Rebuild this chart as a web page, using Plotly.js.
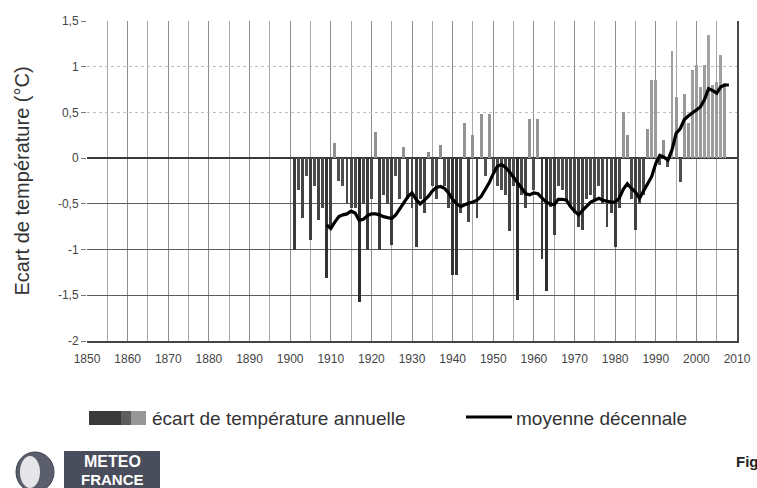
<!DOCTYPE html>
<html>
<head>
<meta charset="utf-8">
<script src="https://cdn.plot.ly/plotly-3.0.1.min.js"></script>
<style>
  html, body { margin: 0; padding: 0; background: #fff; overflow: hidden; }
  #chart { width: 757px; height: 488px; }
</style>
</head>
<body>
<div id="chart"></div>
<script>
// Annual temperature anomaly (°C), 1901-2007
const firstYear = 1901;
const anomalies = [
  -1.00, -0.35, -0.66, -0.20, -0.90, -0.30, -0.68, -0.55, -1.31, -0.75,
   0.17, -0.25, -0.30, -0.50, -0.55, -0.55, -1.57, -0.50, -1.00, -0.45,
   0.29, -1.00, -0.40, -0.50, -0.95, -0.20, -0.45,  0.12, -0.45, -0.55,
  -0.97, -0.45, -0.60,  0.07, -0.30, -0.45,  0.14, -0.30, -0.55, -1.28,
  -1.28, -0.60,  0.38, -0.70,  0.25, -0.66,  0.48, -0.20,  0.48, -0.15,
  -0.30, -0.35, -0.40, -0.80, -0.30, -1.55, -0.40, -0.55,  0.43, -0.35,
   0.43, -1.10, -1.45, -0.53, -0.84, -0.30, -0.35, -0.46, -0.53, -0.60,
  -0.75, -0.79, -0.45, -0.40, -0.45, -0.30, -0.50, -0.75, -0.60, -0.97,
  -0.55,  0.51,  0.25, -0.45, -0.79, -0.50, -0.40,  0.32,  0.85,  0.85,
  -0.08,  0.20, -0.10,  1.17,  0.67, -0.26,  0.70,  0.38,  0.96,  1.02,
   0.78,  1.02,  1.35,  0.80,  0.83,  1.13,  0.82
];

// Ten-year running mean (°C), 1909-2008
const meanFirstYear = 1909;
const decadalMean = [
  -0.73, -0.77, -0.70, -0.64, -0.62, -0.61, -0.58, -0.60, -0.68, -0.67,
  -0.63, -0.61, -0.61, -0.62, -0.64, -0.65, -0.66, -0.62, -0.55, -0.48,
  -0.42, -0.38, -0.45, -0.50, -0.46, -0.42, -0.36, -0.32, -0.31, -0.33,
  -0.38, -0.45, -0.50, -0.53, -0.51, -0.49, -0.48, -0.46, -0.42, -0.35,
  -0.27, -0.17, -0.09, -0.07, -0.10, -0.15, -0.21, -0.28, -0.34, -0.39,
  -0.40, -0.38, -0.39, -0.44, -0.48, -0.50, -0.51, -0.45, -0.45, -0.46,
  -0.53, -0.58, -0.62, -0.57, -0.52, -0.48, -0.46, -0.44, -0.46, -0.47,
  -0.48, -0.48, -0.44, -0.34, -0.28, -0.33, -0.37, -0.44, -0.36, -0.28,
  -0.20, -0.06,  0.03,  0.01, -0.02,  0.09,  0.27,  0.32,  0.42,  0.46,
   0.49,  0.52,  0.56,  0.64,  0.76,  0.74,  0.71,  0.78,  0.80,  0.80
];

const xTickVals = [1850, 1860, 1870, 1880, 1890, 1900, 1910, 1920, 1930,
                   1940, 1950, 1960, 1970, 1980, 1990, 2000, 2010];
const xTickText = ['1850', '1860', '1870', '1880', '1890', '1900', '1910', '1920', '1930',
                   '1940', '1950', '1960', '1970', '1980', '1990', '2000', '2010'];
const yTickVals = [-2, -1.5, -1, -0.5, 0, 0.5, 1, 1.5];
const yTickText = ['-2', '-1,5', '-1', '-0,5', '0', '0,5', '1', '1,5'];
const yDarkGrid = [-2, -1.5, -1, -0.5];

const legendBars = 'écart de température annuelle';
const legendLine = 'moyenne décennale';
const yTitle = 'Ecart de température (°C)';

const barYears = anomalies.map((_, i) => firstYear + i);
const meanYears = decadalMean.map((_, i) => meanFirstYear + i);

// page geometry helpers for the legend and logo (pixel -> paper)
const W = 757, H = 488, M = { l: 87, r: 20, t: 21, b: 147 };
const pw = W - M.l - M.r, ph = H - M.t - M.b;
const px = v => (v - M.l) / pw;
const py = v => (H - M.b - v) / ph;

const tickFont = { family: 'Liberation Sans Narrow, Liberation Sans, Arial, sans-serif', size: 12, color: '#444' };
const textFont = { family: 'Liberation Sans, Arial, sans-serif', size: 19, color: '#333' };
const titleFont = { family: 'Liberation Sans, Arial, sans-serif', size: 20, color: '#333' };

const bars = {
  type: 'bar',
  x: barYears,
  y: anomalies,
  width: 0.72,
  marker: {
    color: anomalies,
    cmin: -1.6, cmax: 1.4,
    colorscale: [[0, '#2b2b2b'], [0.52, '#555555'], [0.535, '#8e8e8e'], [1, '#a4a4a4']],
    showscale: false,
    line: { width: 0 }
  },
  hoverinfo: 'x+y',
  showlegend: false
};

const mean = {
  type: 'scatter',
  mode: 'lines',
  x: meanYears,
  y: decadalMean,
  yaxis: 'y2',
  line: { color: '#000', width: 3.2 },
  hoverinfo: 'x+y',
  showlegend: false
};

const rect = (x0, x1, y0, y1, fill) => ({
  type: 'rect', xref: 'paper', yref: 'paper',
  x0: px(x0), x1: px(x1), y0: py(y1), y1: py(y0),
  fillcolor: fill, line: { width: 0 }, layer: 'above'
});

const shapes = [
  // legend swatches
  rect(89, 121, 411, 425, '#3a3a3a'),
  rect(121, 131, 411, 425, '#5e5e5e'),
  rect(131, 146, 411, 425, '#979797'),
  { type: 'line', xref: 'paper', yref: 'paper', x0: px(466), x1: px(512), y0: py(417), y1: py(417),
    line: { color: '#000', width: 3 } },
  // logo
  { type: 'circle', xref: 'paper', yref: 'paper', x0: px(16), x1: px(54), y0: py(492), y1: py(452),
    fillcolor: '#5b5e6c', line: { color: '#3c3f4c', width: 1 } },
  { type: 'circle', xref: 'paper', yref: 'paper', x0: px(20), x1: px(40), y0: py(488), y1: py(456),
    fillcolor: '#e6e6ea', line: { width: 0 } },
  rect(64, 160, 451, 488, '#4a4d5c')
];

const annotations = [
  { xref: 'paper', yref: 'paper', x: px(150), y: py(418), xanchor: 'left', yanchor: 'middle',
    text: legendBars, showarrow: false, font: textFont },
  { xref: 'paper', yref: 'paper', x: px(514), y: py(418), xanchor: 'left', yanchor: 'middle',
    text: legendLine, showarrow: false, font: textFont },
  { xref: 'paper', yref: 'paper', x: px(112), y: py(461), xanchor: 'center', yanchor: 'middle',
    text: '<b>METEO</b>', showarrow: false, borderpad: 0,
    font: { family: 'Liberation Sans Narrow, Liberation Sans, Arial', size: 16, color: '#fff' } },
  { xref: 'paper', yref: 'paper', x: px(112), y: py(479), xanchor: 'center', yanchor: 'middle',
    text: '<b>FRANCE</b>', showarrow: false, borderpad: 0,
    font: { family: 'Liberation Sans Narrow, Liberation Sans, Arial', size: 15, color: '#fff' } },
  { xref: 'paper', yref: 'paper', x: px(735), y: py(461), xanchor: 'left', yanchor: 'middle',
    text: '<b>Fig</b>', showarrow: false, borderpad: 0,
    font: { family: 'Liberation Sans Narrow, Liberation Sans, Arial', size: 15, color: '#222' } }
];

const layout = {
  width: W, height: H,
  margin: M,
  paper_bgcolor: '#fff',
  plot_bgcolor: '#fff',
  bargap: 0,
  xaxis: {
    range: [1850, 2010],
    tickvals: xTickVals,
    ticktext: xTickText,
    tickfont: tickFont,
    ticks: 'outside', ticklen: 6, tickcolor: 'rgba(0,0,0,0)',
    showgrid: true, gridcolor: '#8e8e8e', gridwidth: 1,
    minor: { dtick: 5, tick0: 1850, showgrid: true, gridcolor: '#a8a8a8', gridwidth: 1 },
    showline: true, linecolor: '#444', linewidth: 2,
    zeroline: false, fixedrange: true
  },
  yaxis: {
    range: [-2, 1.5],
    tickvals: yTickVals,
    ticktext: yTickText,
    tickfont: tickFont,
    ticks: 'outside', ticklen: 5, tickcolor: '#777',
    showgrid: true, gridcolor: '#bdbdbd', griddash: 'dot',
    zeroline: false, showline: false,
    title: { text: yTitle, font: titleFont, standoff: 22 },
    fixedrange: true
  },
  yaxis2: {
    overlaying: 'y', side: 'right',
    range: [-2, 1.5],
    tickvals: yDarkGrid,
    showticklabels: false, ticks: '',
    showgrid: true, gridcolor: '#5c5c5c', gridwidth: 1,
    zeroline: true, zerolinecolor: '#3a3a3a', zerolinewidth: 1.6,
    showline: true, linecolor: '#4a4a4a', linewidth: 1.5,
    fixedrange: true
  },
  shapes: shapes,
  annotations: annotations
};

Plotly.newPlot('chart', [bars, mean], layout, { displayModeBar: false, staticPlot: true });
</script>
</body>
</html>
